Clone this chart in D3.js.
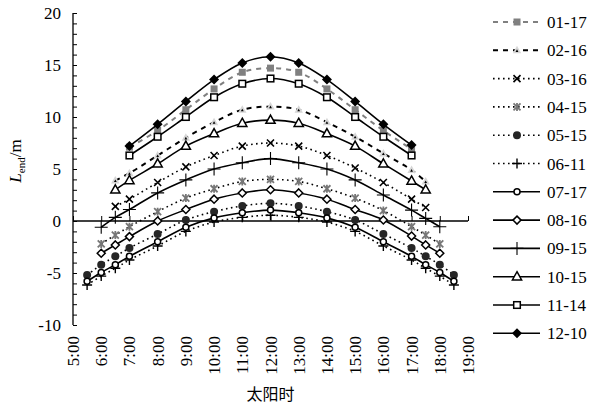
<!DOCTYPE html>
<html>
<head>
<meta charset="utf-8">
<script src="https://cdn.jsdelivr.net/npm/d3@7"></script>
<style>
  html, body { margin: 0; padding: 0; background: #fff; }
  svg { display: block; }
  svg text { font-family: "Liberation Serif", "DejaVu Serif", serif; }
  svg text.cjk { font-family: "Noto Sans CJK SC", sans-serif; }
</style>
</head>
<body>
<div id="chart"></div>
<script>
  // ---- data ----
  const hoursA = [7, 8, 9, 10, 11, 12, 13, 14, 15, 16, 17];
  const hoursB = [6.5, 7, 8, 9, 10, 11, 12, 13, 14, 15, 16, 17, 17.5];
  const hoursC = [6, 6.5, 7, 8, 9, 10, 11, 12, 13, 14, 15, 16, 17, 17.5, 18];
  const hoursD = [5.5, 6, 6.5, 7, 8, 9, 10, 11, 12, 13, 14, 15, 16, 17, 17.5, 18, 18.5];

  const s0117 = [7.1, 8.7, 10.7, 12.7, 14.3, 14.7, 14.3, 12.7, 10.7, 8.7, 6.9];
  const s0216 = [3.9, 4.6, 6.3, 8.0, 9.5, 10.7, 11.0, 10.7, 9.5, 8.1, 6.5, 4.9, 3.8];
  const s0316 = [1.4, 2.1, 3.7, 5.2, 6.3, 7.2, 7.5, 7.2, 6.3, 5.1, 3.7, 2.1, 1.3];
  const s0415 = [-2.2, -1.35, -0.55, 0.9, 2.2, 3.1, 3.8, 4.0, 3.8, 3.1, 2.2, 1.0, -0.55, -1.35, -2.2];
  const s0515 = [-5.2, -4.2, -3.4, -2.6, -1.25, 0.1, 0.9, 1.45, 1.7, 1.45, 0.9, 0.1, -1.25, -2.6, -3.4, -4.2, -5.2];
  const s0611 = [-6.15, -5.3, -4.55, -3.75, -2.4, -1.0, -0.1, 0.35, 0.55, 0.35, -0.1, -1.0, -2.4, -3.75, -4.55, -5.3, -6.15];
  const s0717 = [-5.8, -4.95, -4.2, -3.4, -2.0, -0.6, 0.3, 0.8, 1.05, 0.8, 0.3, -0.6, -2.0, -3.4, -4.2, -4.95, -5.8];
  const s0816 = [-3.1, -2.3, -1.5, 0.0, 1.1, 2.1, 2.7, 3.0, 2.7, 2.1, 1.1, 0.1, -1.45, -2.3, -3.1];
  const s0915 = [-0.6, 0.35, 1.1, 2.7, 3.95, 5.0, 5.6, 6.0, 5.6, 5.0, 3.95, 2.5, 1.05, 0.25, -0.55];
  const s1015 = [3.0, 3.9, 5.5, 7.2, 8.4, 9.4, 9.7, 9.4, 8.4, 7.2, 5.5, 3.85, 3.0];
  const s1114 = [6.3, 8.1, 10.0, 11.9, 13.2, 13.7, 13.2, 11.9, 10.0, 8.1, 6.3];
  const s1210 = [7.2, 9.3, 11.5, 13.6, 15.2, 15.8, 15.2, 13.6, 11.5, 9.3, 7.3];

  const seriesNames = ['01-17', '02-16', '03-16', '04-15', '05-15', '06-11',
                       '07-17', '08-16', '09-15', '10-15', '11-14', '12-10'];
  const xTickLabels = ['5:00', '6:00', '7:00', '8:00', '9:00', '10:00', '11:00',
                       '12:00', '13:00', '14:00', '15:00', '16:00', '17:00', '18:00', '19:00'];
  const yTicks = [-10, -5, 0, 5, 10, 15, 20];

  // styles per series (line + marker)
  const styles = [
    { hours: hoursA, vals: s0117, stroke: '#808080', dash: '5,5', width: 2, marker: 'graySquare' },
    { hours: hoursB, vals: s0216, stroke: '#000', dash: '5,5', width: 2, marker: 'lightTri' },
    { hours: hoursB, vals: s0316, stroke: '#000', dash: '1.6,3.4', width: 1.6, marker: 'times' },
    { hours: hoursC, vals: s0415, stroke: '#000', dash: '1.6,3.4', width: 1.6, marker: 'asterisk' },
    { hours: hoursD, vals: s0515, stroke: '#000', dash: '1.6,3.4', width: 1.6, marker: 'dot' },
    { hours: hoursD, vals: s0611, stroke: '#000', dash: '1.6,3.4', width: 1.6, marker: 'plusSmall' },
    { hours: hoursD, vals: s0717, stroke: '#000', dash: null, width: 1.6, marker: 'openCircle' },
    { hours: hoursC, vals: s0816, stroke: '#000', dash: null, width: 1.6, marker: 'openDiamond' },
    { hours: hoursC, vals: s0915, stroke: '#000', dash: null, width: 1.6, marker: 'plusBig' },
    { hours: hoursB, vals: s1015, stroke: '#000', dash: null, width: 1.6, marker: 'openTri' },
    { hours: hoursA, vals: s1114, stroke: '#000', dash: null, width: 1.6, marker: 'openSquare' },
    { hours: hoursA, vals: s1210, stroke: '#000', dash: null, width: 1.6, marker: 'fillDiamond' }
  ];

  const width = 592, height = 410;

  const svg = d3.select('#chart').append('svg')
    .attr('width', width).attr('height', height);

  const x = d3.scaleLinear().domain([5, 19]).range([73, 468]);
  const y = d3.scaleLinear().domain([-10, 20]).range([325, 13]);

  // ---- axes ----
  // y axis: minor ticks every 1, labels every 5, ticks inside
  const yAxis = svg.append('g').attr('transform', `translate(${x(5)},0)`)
    .call(d3.axisRight(y).tickValues(d3.range(-10, 21, 1)).tickSize(4).tickFormat(''));
  yAxis.select('.domain').attr('stroke', '#000').attr('stroke-width', 1.3).attr('d', `M0,${y(-10)}V${y(20)}`);
  yAxis.selectAll('.tick line').attr('stroke', '#000').attr('stroke-width', 1);

  svg.append('g').selectAll('text').data(yTicks).join('text')
    .attr('x', 61).attr('y', d => y(d) + 6)
    .attr('text-anchor', 'end')
    .attr('font-size', 17)
    .text(d => d);

  // x axis on the zero line, ticks upward
  const xAxis = svg.append('g').attr('transform', `translate(0,${y(0)})`)
    .call(d3.axisTop(x).tickValues(d3.range(5, 20, 1)).tickSize(5).tickSizeOuter(0).tickFormat(''));
  xAxis.select('.domain').attr('stroke', '#000').attr('stroke-width', 1.3).attr('d', `M${x(5)},0H${x(19)}`);
  xAxis.selectAll('.tick line').attr('stroke', '#000').attr('stroke-width', 1);

  svg.append('g').selectAll('text').data(xTickLabels).join('text')
    .attr('transform', (d, i) => `translate(${x(5 + i) + 6},336) rotate(-90)`)
    .attr('text-anchor', 'end')
    .attr('font-size', 17)
    .text(d => d);

  // axis titles
  svg.append('text')
    .attr('class', 'cjk')
    .attr('x', x(12)).attr('y', 400)
    .attr('text-anchor', 'middle')
    .attr('font-size', 16)
    .text('太阳时');

  const yTitle = svg.append('text')
    .attr('transform', 'translate(21,161) rotate(-90)')
    .attr('text-anchor', 'middle')
    .attr('font-size', 17);
  yTitle.append('tspan').attr('font-style', 'italic').text('L');
  yTitle.append('tspan').attr('font-size', 11).attr('dy', 4).text('end');
  yTitle.append('tspan').attr('dy', -4).text('/m');

  // ---- markers ----
  function drawMarker(g, type, cx, cy) {
    const m = g.append('g').attr('transform', `translate(${cx},${cy})`);
    switch (type) {
      case 'graySquare':
        m.append('rect').attr('x', -3.5).attr('y', -3.5).attr('width', 7).attr('height', 7).attr('fill', '#808080');
        break;
      case 'lightTri':
        m.append('path').attr('d', 'M0,-4.5L4.2,3L-4.2,3Z').attr('fill', '#d6d6d6');
        m.append('path').attr('d', 'M0,-1L1.4,1.6L-1.4,1.6Z').attr('fill', '#000');
        break;
      case 'times':
        m.append('path').attr('d', 'M-3.5,-3.5L3.5,3.5M3.5,-3.5L-3.5,3.5').attr('stroke', '#000').attr('stroke-width', 1.6);
        break;
      case 'asterisk':
        m.append('path').attr('d', 'M-3.5,-3.5L3.5,3.5M3.5,-3.5L-3.5,3.5M0,-4V4')
          .attr('stroke', '#777').attr('stroke-width', 1.8);
        break;
      case 'dot':
        m.append('circle').attr('r', 4).attr('fill', '#262626');
        break;
      case 'plusSmall':
        m.append('path').attr('d', 'M-5,0H5M0,-5V5').attr('stroke', '#000').attr('stroke-width', 1.4);
        break;
      case 'openCircle':
        m.append('circle').attr('r', 3).attr('fill', '#fff').attr('stroke', '#000').attr('stroke-width', 1.5);
        break;
      case 'openDiamond':
        m.append('path').attr('d', 'M0,-4L4,0L0,4L-4,0Z').attr('fill', '#fff').attr('stroke', '#000').attr('stroke-width', 1.5);
        break;
      case 'plusBig':
        m.append('path').attr('d', 'M-6.5,0H6.5M0,-6.5V6.5').attr('stroke', '#000').attr('stroke-width', 1.1);
        break;
      case 'openTri':
        m.append('path').attr('d', 'M0,-5L4.6,3.2L-4.6,3.2Z').attr('fill', '#fff').attr('stroke', '#000').attr('stroke-width', 1.5);
        break;
      case 'openSquare':
        m.append('rect').attr('x', -3.3).attr('y', -3.3).attr('width', 6.6).attr('height', 6.6)
          .attr('fill', '#fff').attr('stroke', '#000').attr('stroke-width', 1.5);
        break;
      case 'fillDiamond':
        m.append('path').attr('d', 'M0,-5L5,0L0,5L-5,0Z').attr('fill', '#000');
        break;
    }
  }

  // ---- series ----
  const line = d3.line()
    .x(d => x(d[0]))
    .y(d => y(d[1]))
    .curve(d3.curveCatmullRom.alpha(0.5));

  const plot = svg.append('g');
  styles.forEach(s => {
    const pts = s.hours.map((h, i) => [h, s.vals[i]]);
    const g = plot.append('g');
    g.append('path')
      .attr('d', line(pts))
      .attr('fill', 'none')
      .attr('stroke', s.stroke)
      .attr('stroke-width', s.width)
      .attr('stroke-dasharray', s.dash);
    pts.forEach(p => drawMarker(g, s.marker, x(p[0]), y(p[1])));
  });

  // ---- legend ----
  const legend = svg.append('g');
  seriesNames.forEach((name, i) => {
    const s = styles[i];
    const cy = 22 + i * 28.3;
    const g = legend.append('g');
    g.append('line')
      .attr('x1', 493).attr('x2', 540).attr('y1', cy).attr('y2', cy)
      .attr('stroke', s.stroke).attr('stroke-width', s.width)
      .attr('stroke-dasharray', s.dash);
    drawMarker(g, s.marker, 517, cy);
    g.append('text')
      .attr('x', 547).attr('y', cy + 6)
      .attr('font-size', 17)
      .text(name);
  });
</script>
</body>
</html>
